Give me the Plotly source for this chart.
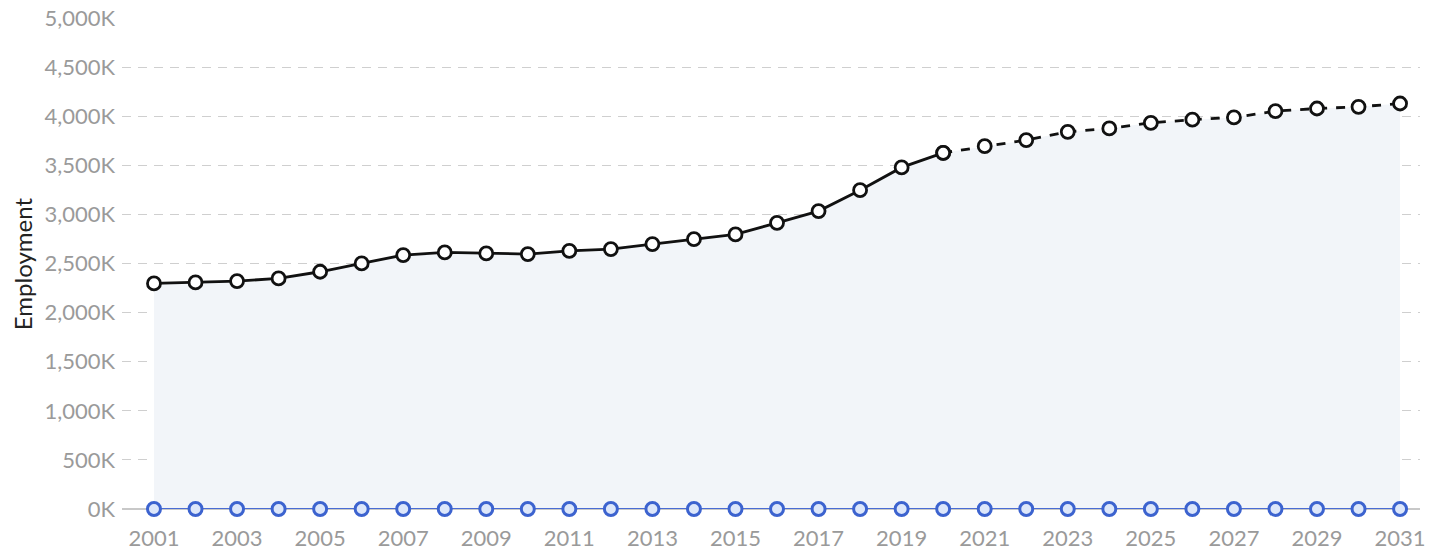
import plotly.graph_objects as go

years = list(range(2001, 2032))
actual_years = list(range(2001, 2021))
actual_values = [2298, 2308, 2322, 2349, 2417, 2502, 2587, 2614, 2604, 2597,
                 2630, 2648, 2699, 2749, 2797, 2915, 3035, 3248, 3480, 3628]
proj_years = list(range(2020, 2032))
proj_values = [3628, 3696, 3758, 3842, 3877, 3934, 3966, 3989, 4053, 4080, 4097, 4131]
zero_values = [0] * len(years)

all_values = actual_values + proj_values[1:]

ytick_vals = list(range(0, 5001, 500))
ytick_text = [f"{v:,}K" for v in ytick_vals]
xtick_vals = list(range(2001, 2032, 2))

FONT = "Lato"
fig = go.Figure()

fig.add_trace(go.Scatter(x=years, y=all_values, mode="lines", fill="tozeroy",
                         fillcolor="#f2f5f9", line=dict(width=0), hoverinfo="skip",
                         showlegend=False))

fig.add_trace(go.Scatter(x=years, y=zero_values, mode="lines+markers",
                         line=dict(color="#4a6cd4", width=2),
                         marker=dict(size=13, color="#dde7fa", line=dict(color="#3c63cf", width=3)),
                         cliponaxis=False, showlegend=False))

fig.add_trace(go.Scatter(x=actual_years, y=actual_values, mode="lines+markers",
                         line=dict(color="#111111", width=2.8),
                         marker=dict(size=13, color="white", line=dict(color="#111111", width=2.8)),
                         cliponaxis=False, showlegend=False))

fig.add_trace(go.Scatter(x=proj_years, y=proj_values, mode="lines+markers",
                         line=dict(color="#111111", width=2.8, dash="dash"),
                         marker=dict(size=13, color="white", line=dict(color="#111111", width=2.8)),
                         cliponaxis=False, showlegend=False))

fig.add_annotation(text="Employment", xref="paper", yref="paper", x=-0.0765, y=0.5,
                   xanchor="center", yanchor="middle", textangle=-90, showarrow=False,
                   font=dict(family=FONT, size=24, color="#222222"))

fig.update_layout(
    width=1418, height=544,
    margin=dict(l=114, r=6, t=10, b=43),
    plot_bgcolor="white", paper_bgcolor="white",
    font=dict(family=FONT, size=22, color="#9a9a9a"),
    xaxis=dict(range=[2000.23, 2031.48], tickvals=xtick_vals, showgrid=False,
               zeroline=False, showline=False, ticks="", ticklabelstandoff=14,
               automargin=False, tickfont=dict(size=22, color="#9a9a9a")),
    yaxis=dict(range=[0, 5002], tickvals=ytick_vals, ticktext=ytick_text,
               showgrid=True, gridcolor="#cfcfcf", griddash="9px,7px", gridwidth=1,
               zeroline=True, zerolinecolor="#c8c8c8", zerolinewidth=1.5,
               ticks="", ticklabelstandoff=6, ticklabeloverflow="allow",
               automargin=False, tickfont=dict(size=22, color="#9a9a9a")),
)

fig.write_html("out.html")
